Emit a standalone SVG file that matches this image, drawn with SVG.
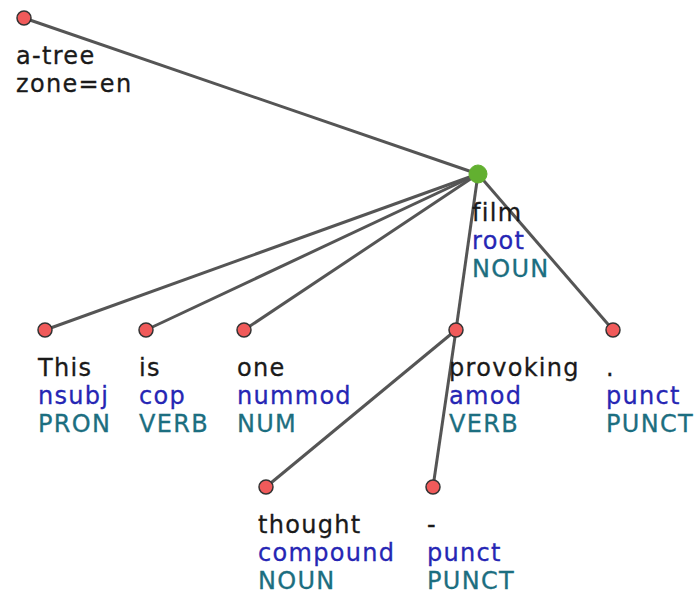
<svg xmlns="http://www.w3.org/2000/svg" width="696" height="594" viewBox="0 0 696 594">
<style>
text{font-family:"DejaVu Sans",Verdana,sans-serif;font-size:24px;letter-spacing:1.3px;stroke-width:0.3px}
.f{fill:#1a1a1a;stroke:#1a1a1a}
.r{fill:#2626b4;stroke:#2626b4}
.u{fill:#1c6e80;stroke:#1c6e80}
.e{stroke:#555;stroke-width:3;fill:none}
.n{fill:#f05a5a;stroke:#333;stroke-width:1.5}
.g{fill:#62b030;stroke:#62b030;stroke-width:1}
</style>
<rect width="696" height="594" fill="#fff"/>
<g id="edges">
<line class="e" x1="24" y1="18" x2="478" y2="174"/>
<line class="e" x1="478" y1="174" x2="45" y2="330"/>
<line class="e" x1="478" y1="174" x2="146" y2="330"/>
<line class="e" x1="478" y1="174" x2="244" y2="330"/>
<line class="e" x1="478" y1="174" x2="456" y2="330"/>
<line class="e" x1="478" y1="174" x2="613" y2="330"/>
<line class="e" x1="456" y1="330" x2="266" y2="487"/>
<line class="e" x1="456" y1="330" x2="433" y2="487"/>
</g>
<g id="atree">
<circle class="n" cx="24" cy="18" r="7"/>
<text x="16" y="64" class="f">a-tree</text>
<text x="16" y="92" class="f">zone=en</text>
</g>
<g id="film">
<circle class="g" cx="478" cy="174" r="9"/>
<text x="472" y="221" class="f">film</text>
<text x="472" y="249" class="r">root</text>
<text x="472" y="277" class="u">NOUN</text>
</g>
<g id="this">
<circle class="n" cx="45" cy="330" r="7"/>
<text x="38" y="376" class="f">This</text>
<text x="38" y="404" class="r">nsubj</text>
<text x="38" y="432" class="u">PRON</text>
</g>
<g id="is">
<circle class="n" cx="146" cy="330" r="7"/>
<text x="139" y="376" class="f">is</text>
<text x="139" y="404" class="r">cop</text>
<text x="139" y="432" class="u">VERB</text>
</g>
<g id="one">
<circle class="n" cx="244" cy="330" r="7"/>
<text x="237" y="376" class="f">one</text>
<text x="237" y="404" class="r">nummod</text>
<text x="237" y="432" class="u">NUM</text>
</g>
<g id="provoking">
<circle class="n" cx="456" cy="330" r="7"/>
<text x="449" y="376" class="f">provoking</text>
<text x="449" y="404" class="r">amod</text>
<text x="449" y="432" class="u">VERB</text>
</g>
<g id="period">
<circle class="n" cx="613" cy="330" r="7"/>
<text x="606" y="376" class="f">.</text>
<text x="606" y="404" class="r">punct</text>
<text x="606" y="432" class="u">PUNCT</text>
</g>
<g id="thought">
<circle class="n" cx="266" cy="487" r="7"/>
<text x="258" y="533" class="f">thought</text>
<text x="258" y="561" class="r">compound</text>
<text x="258" y="589" class="u">NOUN</text>
</g>
<g id="hyphen">
<circle class="n" cx="433" cy="487" r="7"/>
<text x="427" y="533" class="f">-</text>
<text x="427" y="561" class="r">punct</text>
<text x="427" y="589" class="u">PUNCT</text>
</g>
</svg>
